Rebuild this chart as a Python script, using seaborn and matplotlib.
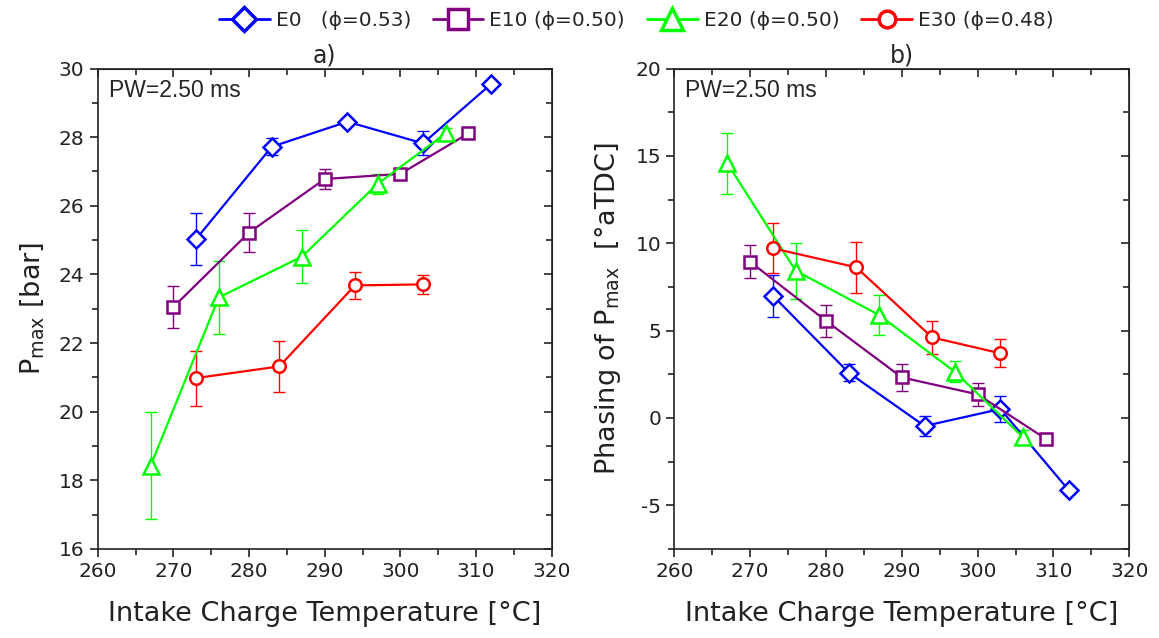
import numpy as np
import pandas as pd
import seaborn as sns
import matplotlib.pyplot as plt
from matplotlib.lines import Line2D
from matplotlib.ticker import MultipleLocator

# values (temperature in degC)
temp_e0 = [273, 283, 293, 303, 312]
pmax_e0 = [25.03, 27.72, 28.45, 27.82, 29.55]
pmax_err_e0 = [0.75, 0.25, 0.10, 0.35, 0.10]
phase_e0 = [7.00, 2.59, -0.46, 0.51, -4.13]
phase_err_e0 = [1.20, 0.50, 0.60, 0.72, 0.20]

temp_e10 = [270, 280, 290, 300, 309]
pmax_e10 = [23.05, 25.22, 26.78, 26.93, 28.11]
pmax_err_e10 = [0.62, 0.56, 0.30, 0.15, 0.08]
phase_e10 = [8.94, 5.56, 2.32, 1.35, -1.20]
phase_err_e10 = [0.95, 0.90, 0.77, 0.67, 0.25]

temp_e20 = [267, 276, 287, 297, 306]
pmax_e20 = [18.43, 23.33, 24.52, 26.64, 28.11]
pmax_err_e20 = [1.55, 1.07, 0.77, 0.30, 0.15]
phase_e20 = [14.57, 8.43, 5.89, 2.64, -1.11]
phase_err_e20 = [1.75, 1.60, 1.15, 0.60, 0.40]

temp_e30 = [273, 284, 294, 303]
pmax_e30 = [20.98, 21.32, 23.68, 23.71]
pmax_err_e30 = [0.80, 0.75, 0.39, 0.28]
phase_e30 = [9.71, 8.62, 4.61, 3.70]
phase_err_e30 = [1.43, 1.45, 0.95, 0.80]

labels = ["E0   (\u03d5=0.53)", "E10 (\u03d5=0.50)", "E20 (\u03d5=0.50)", "E30 (\u03d5=0.48)"]
colors = ["#0000ff", "#800080", "#00ff00", "#ff0000"]
markers = ["D", "s", "^", "o"]
msizes = [9.0, 8.0, 12.0, 9.0]
leg_msizes = [12.5, 14.0, 16.0, 12.0]

series = [
    (temp_e0, pmax_e0, pmax_err_e0, phase_e0, phase_err_e0),
    (temp_e10, pmax_e10, pmax_err_e10, phase_e10, phase_err_e10),
    (temp_e20, pmax_e20, pmax_err_e20, phase_e20, phase_err_e20),
    (temp_e30, pmax_e30, pmax_err_e30, phase_e30, phase_err_e30),
]

sns.set_style("ticks")
plt.rcParams['font.family'] = ['DejaVu Sans']
plt.rcParams['mathtext.fontset'] = 'dejavusans'
plt.rcParams['axes.unicode_minus'] = False

fig = plt.figure(figsize=(11.59, 6.38), dpi=100)
ax1 = fig.add_axes([0.0843, 0.1395, 0.3917, 0.7531])
ax2 = fig.add_axes([0.5818, 0.1395, 0.3926, 0.7531])

for i, (t, p, pe, ph, phe) in enumerate(series):
    df = pd.DataFrame({'T': t, 'P': p, 'Pe': pe, 'Ph': ph, 'Phe': phe})
    for ax, col, ecol in [(ax1, 'P', 'Pe'), (ax2, 'Ph', 'Phe')]:
        ax.errorbar(df['T'], df[col], yerr=df[ecol], fmt='none', ecolor=colors[i],
                    elinewidth=1.0, capsize=4, capthick=1.0, zorder=2)
        sns.lineplot(data=df, x='T', y=col, ax=ax, color=colors[i], sort=False,
                     estimator=None, errorbar=None, marker=markers[i],
                     markersize=msizes[i], markerfacecolor='white',
                     markeredgecolor=colors[i], markeredgewidth=1.8,
                     linewidth=1.6, zorder=3)

ax1.set_xlim(260, 320)
ax1.set_ylim(16, 30)
ax1.yaxis.set_major_locator(MultipleLocator(2))
ax1.yaxis.set_minor_locator(MultipleLocator(1))
ax2.set_xlim(260, 320)
ax2.set_ylim(-7.5, 20)
ax2.yaxis.set_major_locator(MultipleLocator(5))
ax2.yaxis.set_minor_locator(MultipleLocator(2.5))

for ax in (ax1, ax2):
    ax.xaxis.set_major_locator(MultipleLocator(10))
    ax.xaxis.set_minor_locator(MultipleLocator(5))
    ax.tick_params(which='both', direction='out', width=1.2, labelsize=14.5, colors='#222222')
    ax.tick_params(which='major', length=6)
    ax.tick_params(which='minor', length=4)
    for s in ax.spines.values():
        s.set_linewidth(1.2)
        s.set_color('#222222')
    # mirrored inward ticks on top and right
    top = ax.secondary_xaxis('top')
    top.xaxis.set_major_locator(MultipleLocator(10))
    top.xaxis.set_minor_locator(MultipleLocator(5))
    top.tick_params(which='both', direction='in', labeltop=False, width=1.2)
    top.tick_params(which='major', length=6)
    top.tick_params(which='minor', length=4)
    right = ax.secondary_yaxis('right')
    right.yaxis.set_major_locator(ax.yaxis.get_major_locator())
    right.yaxis.set_minor_locator(ax.yaxis.get_minor_locator())
    right.tick_params(which='both', direction='in', labelright=False, width=1.2)
    right.tick_params(which='major', length=6)
    right.tick_params(which='minor', length=4)
    ax.set_xlabel('Intake Charge Temperature [\u00b0C]', fontsize=19.5, labelpad=14, color='#222222')
    ax.text(0.024, 0.955, 'PW=2.50 ms', transform=ax.transAxes, fontsize=16.5,
            family='Liberation Sans', va='center', ha='left')

ax1.set_ylabel(r'P$_{\mathregular{max}}$ [bar]', fontsize=19.5, labelpad=9, color='#222222')
ax2.set_ylabel('Phasing of P$_{\\mathregular{max}}$  [\u00b0aTDC]', fontsize=19.5, labelpad=9, color='#222222')
ax1.set_title('a)', fontsize=17, pad=4)
ax2.set_title('b)', fontsize=17, pad=4)

handles = [Line2D([0], [0], color=colors[i], marker=markers[i], markersize=leg_msizes[i],
                  markerfacecolor='white', markeredgecolor=colors[i], markeredgewidth=2.5,
                  linewidth=2.0) for i in range(4)]
fig.legend(handles, labels, loc='center', bbox_to_anchor=(0.549, 0.968), ncol=4,
           frameon=False, fontsize=14.5, handlelength=2.5, handletextpad=0.3,
           columnspacing=1.1, borderaxespad=0)

fig.savefig('out.png', dpi=100, facecolor='white')
